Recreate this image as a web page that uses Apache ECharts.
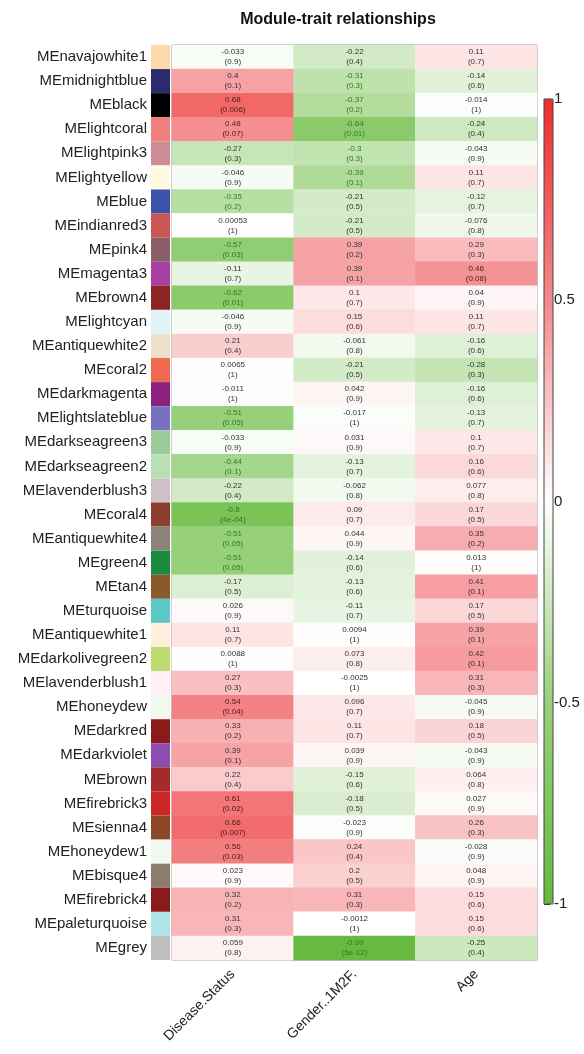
<!DOCTYPE html>
<html>
<head>
<meta charset="utf-8">
<script src="https://cdn.jsdelivr.net/npm/echarts@6/dist/echarts.min.js"></script>
<style>html,body{margin:0;padding:0;background:#fff}#c{width:584px;height:1054px}</style>
</head>
<body>
<div id="c"></div>
<script>
const modules = ["MEnavajowhite1","MEmidnightblue","MEblack","MElightcoral","MElightpink3","MElightyellow","MEblue","MEindianred3","MEpink4","MEmagenta3","MEbrown4","MElightcyan","MEantiquewhite2","MEcoral2","MEdarkmagenta","MElightslateblue","MEdarkseagreen3","MEdarkseagreen2","MElavenderblush3","MEcoral4","MEantiquewhite4","MEgreen4","MEtan4","MEturquoise","MEantiquewhite1","MEdarkolivegreen2","MElavenderblush1","MEhoneydew","MEdarkred","MEdarkviolet","MEbrown","MEfirebrick3","MEsienna4","MEhoneydew1","MEbisque4","MEfirebrick4","MEpaleturquoise","MEgrey"];
const moduleColors = ["#fcd9a8","#2b2a6e","#000000","#f08080","#cd8c95","#fffbe3","#3a52a8","#cc5555","#8b5f68","#a840a0","#8b2525","#e0f4f8","#eedfcc","#ee6a50","#8b2080","#7a70c0","#9bcd9b","#b8e0b4","#cdc1c5","#8b3e2f","#8b8378","#1a8a40","#8b5a2b","#5cc8c8","#ffefdb","#bcdb70","#fff0f5","#f0f8f0","#8b1a1a","#8b4db0","#a52a2a","#cd2626","#8b4726","#f0f8f0","#8b7d6b","#8b1a1a","#afe3e6","#bebebe"];
const traits = ["Disease.Status","Gender..1M2F.","Age"];
const diseaseStatus = [-0.033,0.4,0.68,0.48,-0.27,-0.046,-0.35,0.00053,-0.57,-0.11,-0.62,-0.046,0.21,0.0065,-0.011,-0.51,-0.033,-0.44,-0.22,-0.8,-0.51,-0.51,-0.17,0.026,0.11,0.0088,0.27,0.54,0.33,0.39,0.22,0.61,0.66,0.56,0.023,0.32,0.31,0.059];
const diseaseStatusP = ["0.9","0.1","0.006","0.07","0.3","0.9","0.2","1","0.03","0.7","0.01","0.9","0.4","1","1","0.05","0.9","0.1","0.4","4e-04","0.05","0.05","0.5","0.9","0.7","1","0.3","0.04","0.2","0.1","0.4","0.02","0.007","0.03","0.9","0.2","0.3","0.8"];
const gender = [-0.22,-0.31,-0.37,-0.64,-0.3,-0.39,-0.21,-0.21,0.39,0.39,0.1,0.15,-0.061,-0.21,0.042,-0.017,0.031,-0.13,-0.062,0.09,0.044,-0.14,-0.13,-0.11,0.0094,0.073,-0.0025,0.096,0.11,0.039,-0.15,-0.18,-0.023,0.24,0.2,0.31,-0.0012,-0.99];
const genderP = ["0.4","0.3","0.2","0.01","0.3","0.1","0.5","0.5","0.2","0.1","0.7","0.6","0.8","0.5","0.9","1","0.9","0.7","0.8","0.7","0.9","0.6","0.6","0.7","1","0.8","1","0.7","0.7","0.9","0.6","0.5","0.9","0.4","0.5","0.3","1","5e-12"];
const age = [0.11,-0.14,-0.014,-0.24,-0.043,0.11,-0.12,-0.076,0.29,0.46,0.04,0.11,-0.16,-0.28,-0.16,-0.13,0.1,0.16,0.077,0.17,0.35,0.013,0.41,0.17,0.39,0.42,0.31,-0.045,0.18,-0.043,0.064,0.027,0.26,-0.028,0.048,0.15,0.15,-0.25];
const ageP = ["0.7","0.6","1","0.4","0.9","0.7","0.7","0.8","0.3","0.08","0.9","0.7","0.6","0.3","0.6","0.7","0.7","0.6","0.8","0.5","0.2","1","0.1","0.5","0.1","0.1","0.3","0.9","0.5","0.9","0.8","0.9","0.3","0.9","0.9","0.6","0.6","0.4"];
const colorbarTicks = [-1,-0.5,0,0.5,1];

const cols = [[diseaseStatus, diseaseStatusP],[gender, genderP],[age, ageP]];
const heatData = [];
const heatP = [];
cols.forEach(([vals, ps], xi) => {
  vals.forEach((v, yi) => {
    let c = '#333';
    if (v <= -0.3) c = '#2f7a22';
    else if (v >= 0.45) c = '#4a1c1c';
    heatData.push({ value: [xi, yi, v], label: { color: c } });
    heatP.push(ps[yi]);
  });
});
const stripData = modules.map((m, i) => ({ value: 1, itemStyle: { color: moduleColors[i] } }));

const font = '"Liberation Sans", Arial, sans-serif';
const chart = echarts.init(document.getElementById('c'), null, { renderer: 'canvas' });
chart.setOption({
  animation: false,
  backgroundColor: '#fff',
  textStyle: { fontFamily: font },
  title: {
    text: 'Module-trait relationships',
    left: 333, top: 7, textAlign: 'center',
    textStyle: { fontFamily: font, fontSize: 16, fontWeight: 'bold', color: '#111' }
  },
  grid: [
    { left: 172, top: 45, width: 365, height: 915, show: true, borderColor: '#8a8a8a', borderWidth: 1, backgroundColor: 'transparent' },
    { left: 151, top: 45, width: 19, height: 915 },
    { left: 544, top: 99, width: 9, height: 805, show: true, borderColor: '#444', borderWidth: 1, backgroundColor: 'transparent', z: 10 }
  ],
  xAxis: [
    { gridIndex: 0, type: 'category', data: traits, position: 'bottom',
      axisLine: { show: false }, axisTick: { show: false }, splitLine: { show: false },
      axisLabel: { rotate: 45, fontSize: 14, color: '#222', margin: 12, fontFamily: font } },
    { gridIndex: 1, type: 'value', min: 0, max: 1, show: false },
    { gridIndex: 2, type: 'value', min: 0, max: 1, show: false }
  ],
  yAxis: [
    { gridIndex: 0, type: 'category', data: modules, inverse: true, show: false },
    { gridIndex: 1, type: 'category', data: modules, inverse: true,
      axisLine: { show: false }, axisTick: { show: false },
      axisLabel: { fontSize: 15, color: '#222', margin: 4, fontFamily: font } },
    { gridIndex: 2, type: 'value', min: colorbarTicks[0], max: colorbarTicks[colorbarTicks.length - 1], interval: 0.5, position: 'right',
      axisLine: { show: false }, splitLine: { show: false },
      axisTick: { show: true, length: 6, lineStyle: { color: '#333' } },
      axisLabel: { fontSize: 15, color: '#222', margin: 1, fontFamily: font,
        formatter: v => String(v) } }
  ],
  visualMap: {
    type: 'continuous', seriesIndex: 0, dimension: 2, min: -1, max: 1,
    left: 544, top: 99, itemWidth: 9, itemHeight: 805, padding: 0,
    calculable: false, realtime: false, hoverLink: false,
    inRange: { color: ['#66ba3e', '#98d07b', '#ffffff', '#f4898c', '#ee2c2c'] },
    textStyle: { color: 'transparent' }
  },
  series: [
    { type: 'heatmap', xAxisIndex: 0, yAxisIndex: 0, data: heatData,
      label: { show: true, fontSize: 8, lineHeight: 10, fontFamily: font,
        formatter: p => p.value[2] + '\n(' + heatP[p.dataIndex] + ')' },
      itemStyle: { borderWidth: 0 } },
    { type: 'bar', xAxisIndex: 1, yAxisIndex: 1, data: stripData, barWidth: '100%', barCategoryGap: 0, silent: true }
  ]
});
</script>
</body>
</html>
